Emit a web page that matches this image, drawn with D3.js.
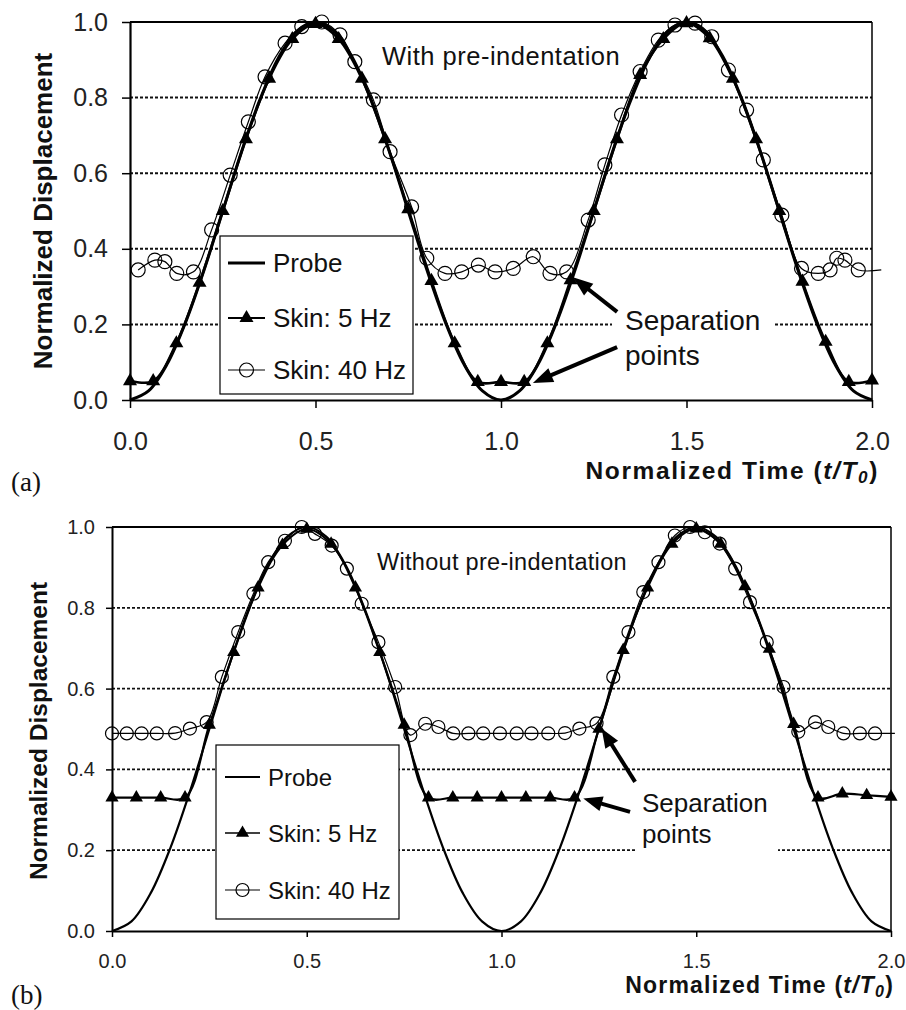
<!DOCTYPE html>
<html>
<head>
<meta charset="utf-8">
<script src="https://cdn.jsdelivr.net/npm/d3@7"></script>
<style>
  body { margin: 0; background: #fff; }
  svg { display: block; }
  text { font-family: "Liberation Sans", Arial, sans-serif; fill: #111; }
  .axis path, .axis line { stroke: #000; }
  .axis text { font-family: "Liberation Sans", Arial, sans-serif; fill: #222; }
</style>
</head>
<body>
<div id="chart"></div>
<script>
// Probe: deslocamento normalizado (igual nos dois painéis)
var probeTime = [0, 0.05, 0.1, 0.15, 0.2, 0.25, 0.3, 0.35, 0.4, 0.45, 0.5,
  0.55, 0.6, 0.65, 0.7, 0.75, 0.8, 0.85, 0.9, 0.95, 1.0,
  1.05, 1.1, 1.15, 1.2, 1.25, 1.3, 1.35, 1.4, 1.45, 1.5,
  1.55, 1.6, 1.65, 1.7, 1.75, 1.8, 1.85, 1.9, 1.95, 2.0];
var probeDisp = [0, 0.024, 0.095, 0.206, 0.345, 0.5, 0.655, 0.794, 0.905, 0.976, 1.0,
  0.976, 0.905, 0.794, 0.655, 0.5, 0.345, 0.206, 0.095, 0.024, 0,
  0.024, 0.095, 0.206, 0.345, 0.5, 0.655, 0.794, 0.905, 0.976, 1.0,
  0.976, 0.905, 0.794, 0.655, 0.5, 0.345, 0.206, 0.095, 0.024, 0];

// Skin 5 Hz (triângulos)
var skin5Time = [0, 0.0625, 0.125, 0.1875, 0.25, 0.3125, 0.375, 0.4375, 0.5,
  0.5625, 0.625, 0.6875, 0.75, 0.8125, 0.875, 0.9375, 1.0,
  1.0625, 1.125, 1.1875, 1.25, 1.3125, 1.375, 1.4375, 1.5,
  1.5625, 1.625, 1.6875, 1.75, 1.8125, 1.875, 1.9375, 2.0];
var skin5DispA = [0.05, 0.05, 0.15, 0.31, 0.50, 0.69, 0.85, 0.955, 0.995,
  0.955, 0.85, 0.69, 0.505, 0.315, 0.15, 0.048, 0.048,
  0.048, 0.15, 0.317, 0.50, 0.69, 0.86, 0.955, 0.997,
  0.957, 0.85, 0.69, 0.50, 0.313, 0.154, 0.048, 0.052];
var skin5DispB = [0.33, 0.33, 0.33, 0.33, 0.51, 0.69, 0.85, 0.955, 0.995,
  0.958, 0.85, 0.69, 0.51, 0.33, 0.33, 0.33, 0.33,
  0.33, 0.33, 0.33, 0.50, 0.695, 0.85, 0.958, 0.996,
  0.958, 0.853, 0.698, 0.512, 0.33, 0.34, 0.336, 0.332];

// Skin 40 Hz (círculos)
var skin40TimeA = [0.022, 0.067, 0.094, 0.126, 0.171, 0.22, 0.27, 0.319, 0.364, 0.418,
  0.463, 0.517, 0.566, 0.606, 0.656, 0.701, 0.759, 0.80, 0.849, 0.894,
  0.939, 0.984, 1.033, 1.087, 1.132, 1.177, 1.235, 1.28, 1.325, 1.375,
  1.424, 1.469, 1.523, 1.568, 1.613, 1.662, 1.707, 1.757, 1.81, 1.855,
  1.887, 1.905, 1.927, 1.963, 2.025];
var skin40DispA = [0.344, 0.37, 0.366, 0.335, 0.339, 0.45, 0.595, 0.736, 0.855, 0.944,
  0.988, 1.0, 0.966, 0.895, 0.794, 0.657, 0.511, 0.375, 0.335, 0.339,
  0.357, 0.339, 0.348, 0.379, 0.335, 0.339, 0.476, 0.622, 0.754, 0.869,
  0.952, 0.992, 0.997, 0.961, 0.873, 0.767, 0.635, 0.489, 0.348, 0.335,
  0.344, 0.375, 0.37, 0.344, 0.344];
var skin40TimeB = [0, 0.038, 0.076, 0.115, 0.162, 0.2, 0.243, 0.282, 0.324, 0.363,
  0.401, 0.444, 0.487, 0.521, 0.564, 0.603, 0.641, 0.684, 0.727, 0.766,
  0.804, 0.838, 0.876, 0.915, 0.953, 0.996, 1.039, 1.077, 1.12, 1.163,
  1.2, 1.244, 1.287, 1.326, 1.364, 1.403, 1.445, 1.484, 1.522, 1.56,
  1.6, 1.638, 1.681, 1.724, 1.762, 1.805, 1.839, 1.878, 1.92, 1.959, 2.01];
var skin40DispB = [0.489, 0.489, 0.489, 0.489, 0.49, 0.501, 0.517, 0.629, 0.74, 0.835,
  0.913, 0.966, 1.0, 0.983, 0.954, 0.897, 0.81, 0.715, 0.604, 0.485,
  0.513, 0.505, 0.489, 0.489, 0.489, 0.489, 0.489, 0.489, 0.489, 0.49,
  0.501, 0.514, 0.629, 0.74, 0.839, 0.913, 0.979, 1.0, 0.987, 0.959,
  0.897, 0.814, 0.715, 0.604, 0.493, 0.517, 0.505, 0.489, 0.489, 0.489, 0.489];

var yTicks = [0, 0.2, 0.4, 0.6, 0.8, 1.0];
var xTicks = [0, 0.5, 1.0, 1.5, 2.0];
var gridValues = [0.2, 0.4, 0.6, 0.8];
var legendLabels = ["Probe", "Skin: 5 Hz", "Skin: 40 Hz"];
var panelTitles = ["With pre-indentation", "Without pre-indentation"];
var panelTags = ["(a)", "(b)"];
var noteLines = ["Separation", "points"];
var yTitleText = "Normalized Displacement";

var svg = d3.select("#chart").append("svg")
    .attr("width", 906)
    .attr("height", 1010);

// configuração visual de cada painel
var panels = [
  { left: 130, right: 872, top: 22, bottom: 400,
    title: panelTitles[0], tag: panelTags[0],
    skin5: skin5DispA, skin40t: skin40TimeA, skin40v: skin40DispA,
    probeW: 3, skin5W: 2.6, skin40W: 1.2, gridW: 2, axisW: 2.2, borderW: 2,
    tickSize: 8, tickFont: 25, yPad: 14, xPad: 24,
    triSize: 85, circR: 7,
    titleX: 382, titleY: 65, titleFont: 25.5, titleLS: 0.5,
    legend: {x: 220, y: 236, w: 193, h: 158, rows: [263, 318, 370], lx0: 228, lx1: 265, tx: 273, font: 26},
    note: {x: 625, y: 330, dy: 35, font: 28, box: [612, 292, 161, 84]},
    arrows: [{from: [1.313, 0.233], to: [1.194, 0.325]}, {from: [1.313, 0.14], to: [1.086, 0.045]}],
    arrowW: 4, headL: 20, headW: 15,
    yTitle: {x: 52, y: 211, font: 26},
    xTitle: {x: 879, y: 479, font: 24.5, ls: 1.6},
    tagPos: {x: 11, y: 491, font: 27}
  },
  { left: 112, right: 891, top: 527, bottom: 931,
    title: panelTitles[1], tag: panelTags[1],
    skin5: skin5DispB, skin40t: skin40TimeB, skin40v: skin40DispB,
    probeW: 2.2, skin5W: 2.2, skin40W: 1.2, gridW: 1.7, axisW: 2, borderW: 2,
    tickSize: 6, tickFont: 20, yPad: 11, xPad: 17,
    triSize: 75, circR: 6.5,
    titleX: 377, titleY: 570, titleFont: 23.5, titleLS: 0.3,
    legend: {x: 216, y: 745, w: 183, h: 174, rows: [777, 833, 890], lx0: 225, lx1: 260, tx: 268, font: 24},
    note: {x: 642, y: 812, dy: 31, font: 26, box: [635, 785, 143, 90]},
    arrows: [{from: [1.343, 0.369], to: [1.257, 0.501]}, {from: [1.33, 0.295], to: [1.21, 0.328]}],
    arrowW: 4, headL: 19, headW: 15,
    yTitle: {x: 47, y: 731, font: 24.5},
    xTitle: {x: 894, y: 993, font: 23, ls: 1.2},
    tagPos: {x: 11, y: 1004, font: 27}
  }
];

panels.forEach(function(p) { drawPanel(p); });

function drawPanel(p) {
  var x = d3.scaleLinear().domain([0, 2]).range([p.left, p.right]);
  var y = d3.scaleLinear().domain([0, 1]).range([p.bottom, p.top]);
  var g = svg.append("g");

  // linhas de grade pontilhadas
  g.selectAll(".grid").data(gridValues).enter().append("line")
      .attr("class", "grid")
      .attr("x1", p.left).attr("x2", p.right)
      .attr("y1", function(d) { return y(d); })
      .attr("y2", function(d) { return y(d); })
      .attr("stroke", "#111")
      .attr("stroke-width", p.gridW)
      .attr("stroke-dasharray", "3,2");

  // borda superior e direita
  g.append("line").attr("x1", p.left).attr("x2", p.right).attr("y1", p.top).attr("y2", p.top)
      .attr("stroke", "#000").attr("stroke-width", p.borderW);
  g.append("line").attr("x1", p.right).attr("x2", p.right).attr("y1", p.top).attr("y2", p.bottom)
      .attr("stroke", "#000").attr("stroke-width", p.borderW * 0.75);

  // eixos
  var yAxis = d3.axisLeft(y).tickValues(yTicks).tickFormat(d3.format(".1f"))
      .tickSize(p.tickSize).tickSizeOuter(0).tickPadding(p.yPad);
  var xAxis = d3.axisBottom(x).tickValues(xTicks).tickFormat(d3.format(".1f"))
      .tickSize(p.tickSize).tickSizeOuter(0).tickPadding(p.xPad);

  var ya = g.append("g").attr("class", "axis y")
      .attr("transform", "translate(" + p.left + ",0)").call(yAxis);
  var xa = g.append("g").attr("class", "axis x")
      .attr("transform", "translate(0," + p.bottom + ")").call(xAxis);
  [ya, xa].forEach(function(a) {
    a.select(".domain").attr("stroke-width", p.axisW);
    a.selectAll(".tick line").attr("stroke-width", 1.5);
    a.selectAll("text").style("font-size", p.tickFont + "px");
  });

  // caixa branca atrás da anotação
  g.append("rect")
      .attr("x", p.note.box[0]).attr("y", p.note.box[1])
      .attr("width", p.note.box[2]).attr("height", p.note.box[3])
      .attr("fill", "#fff");

  var smooth = d3.curveCatmullRom.alpha(0.5);
  var line = d3.line()
      .x(function(d) { return x(d[0]); })
      .y(function(d) { return y(d[1]); })
      .curve(smooth);

  // Probe
  g.append("path").datum(d3.zip(probeTime, probeDisp))
      .attr("d", line).attr("fill", "none")
      .attr("stroke", "#000").attr("stroke-width", p.probeW);

  // Skin 5 Hz
  var s5 = d3.zip(skin5Time, p.skin5);
  g.append("path").datum(s5)
      .attr("d", line).attr("fill", "none")
      .attr("stroke", "#000").attr("stroke-width", p.skin5W);

  // Skin 40 Hz
  var s40 = d3.zip(p.skin40t, p.skin40v);
  g.append("path").datum(s40)
      .attr("d", line).attr("fill", "none")
      .attr("stroke", "#000").attr("stroke-width", p.skin40W);

  g.selectAll(".c40").data(s40.filter(function(d) { return d[0] <= 2; }))
    .enter().append("circle")
      .attr("class", "c40")
      .attr("cx", function(d) { return x(d[0]); })
      .attr("cy", function(d) { return y(d[1]); })
      .attr("r", p.circR)
      .attr("fill", "none")
      .attr("stroke", "#000")
      .attr("stroke-width", 1.2);

  var tri = d3.symbol().type(d3.symbolTriangle).size(p.triSize);
  g.selectAll(".t5").data(s5).enter().append("path")
      .attr("class", "t5")
      .attr("d", tri)
      .attr("transform", function(d) { return "translate(" + x(d[0]) + "," + y(d[1]) + ")"; })
      .attr("fill", "#000");

  // legenda
  var L = p.legend;
  g.append("rect").attr("x", L.x).attr("y", L.y).attr("width", L.w).attr("height", L.h)
      .attr("fill", "#fff").attr("stroke", "#000").attr("stroke-width", 1.2);
  var legW = [p.probeW, p.skin5W * 0.7, p.skin40W];
  L.rows.forEach(function(ry, i) {
    g.append("line").attr("x1", L.lx0).attr("x2", L.lx1).attr("y1", ry).attr("y2", ry)
        .attr("stroke", "#000").attr("stroke-width", legW[i]);
    var mx = (L.lx0 + L.lx1) / 2;
    if (i === 1) {
      g.append("path").attr("d", tri).attr("transform", "translate(" + mx + "," + ry + ")").attr("fill", "#000");
    } else if (i === 2) {
      g.append("circle").attr("cx", mx).attr("cy", ry).attr("r", p.circR)
          .attr("fill", "none").attr("stroke", "#000").attr("stroke-width", 1.2);
    }
    g.append("text").attr("x", L.tx).attr("y", ry).attr("dy", "0.36em")
        .style("font-size", L.font + "px").text(legendLabels[i]);
  });

  // título interno
  g.append("text").attr("x", p.titleX).attr("y", p.titleY)
      .style("font-size", p.titleFont + "px")
      .style("letter-spacing", p.titleLS + "px")
      .text(p.title);

  // anotação "Separation points"
  noteLines.forEach(function(t, i) {
    g.append("text").attr("x", p.note.x).attr("y", p.note.y + i * p.note.dy)
        .style("font-size", p.note.font + "px").text(t);
  });

  // setas
  p.arrows.forEach(function(a) {
    var x0 = x(a.from[0]), y0 = y(a.from[1]);
    var x1 = x(a.to[0]), y1 = y(a.to[1]);
    var len = Math.hypot(x1 - x0, y1 - y0);
    var ux = (x1 - x0) / len, uy = (y1 - y0) / len;
    var bx = x1 - ux * p.headL, by = y1 - uy * p.headL;
    g.append("line").attr("x1", x0).attr("y1", y0).attr("x2", bx + ux * 2).attr("y2", by + uy * 2)
        .attr("stroke", "#000").attr("stroke-width", p.arrowW);
    var hw = p.headW / 2;
    g.append("path")
        .attr("d", "M" + x1 + "," + y1 +
                   "L" + (bx - uy * hw) + "," + (by + ux * hw) +
                   "L" + (bx + uy * hw) + "," + (by - ux * hw) + "Z")
        .attr("fill", "#000");
  });

  // título do eixo y
  g.append("text")
      .attr("transform", "translate(" + p.yTitle.x + "," + p.yTitle.y + ") rotate(-90)")
      .attr("text-anchor", "middle")
      .style("font-size", p.yTitle.font + "px")
      .style("font-weight", "bold")
      .text(yTitleText);

  // título do eixo x
  var xt = g.append("text")
      .attr("x", p.xTitle.x).attr("y", p.xTitle.y)
      .attr("text-anchor", "end")
      .style("font-size", p.xTitle.font + "px")
      .style("font-weight", "bold")
      .style("letter-spacing", p.xTitle.ls + "px");
  xt.append("tspan").text("Normalized Time (");
  xt.append("tspan").style("font-style", "italic").text("t/T");
  xt.append("tspan").style("font-style", "italic").style("font-size", (p.xTitle.font * 0.7) + "px")
      .attr("dy", 4).text("0");
  xt.append("tspan").attr("dy", -4).text(")");

  // rótulo do painel
  g.append("text").attr("x", p.tagPos.x).attr("y", p.tagPos.y)
      .style("font-family", "'Liberation Serif', 'DejaVu Serif', serif")
      .style("font-size", p.tagPos.font + "px")
      .text(p.tag);
}
</script>
</body>
</html>
